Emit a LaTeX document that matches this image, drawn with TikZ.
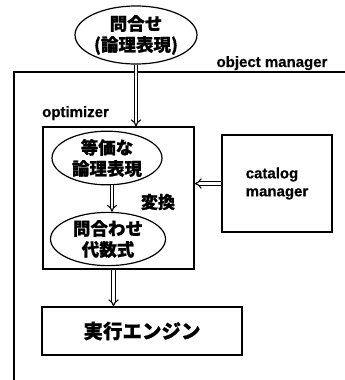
\documentclass[tikz,border=0pt]{standalone}
\usepackage{fontspec}
\setmainfont{Liberation Sans}[BoldFeatures={FakeBold=0.6}]
\newfontfamily\jp{Noto Sans CJK JP}[BoldFeatures={FakeBold=0.8}]
\usetikzlibrary{shapes.geometric,arrows.meta}
\tikzset{
  boxs/.style={draw,line width=1.2pt,rectangle,inner sep=0pt},
  ell/.style={draw,line width=1.2pt,ellipse,inner sep=0pt,align=center,
    font=\jp\bfseries\fontsize{17.5}{21}\selectfont},
  lat/.style={font=\bfseries\fontsize{15}{17}\selectfont,inner sep=0pt},
  dbl/.style={double,double distance=2.4pt,line width=1.1pt,-{Implies[length=5pt]}},
}
\begin{document}
\begin{tikzpicture}[x=1pt,y=-1pt]
\useasboundingbox (0,0) rectangle (345,380);
% object manager frame
\draw[line width=1.2pt] (14,380) -- (14,72) -- (345,72);
\node[lat,anchor=base] (om) at (272,67) {object manager};
% query ellipse
\node[ell,minimum width=122,minimum height=58] (q) at (136,35) {問合せ\\(論理表現)};
% optimizer
\node[lat,anchor=base west] (optl) at (42,117) {optimizer};
\node[boxs,minimum width=151,minimum height=142] (opt) at (118.5,198) {};
\node[ell,minimum width=110,minimum height=44] (e1) at (107,158) {等価な\\論理表現};
\node[ell,minimum width=115,minimum height=48] (e2) at (108,239) {問合わせ\\代数式};
\node[font=\jp\bfseries\fontsize{17}{20}\selectfont,inner sep=0pt] (conv) at (158,202) {変換};
% catalog manager
\node[boxs,minimum width=110,minimum height=97,align=left,
  font=\bfseries\fontsize{15}{18}\selectfont] (cat) at (277,183.5) {catalog\\manager};
% execution engine
\node[boxs,minimum width=200,minimum height=48,
  font=\jp\bfseries\fontsize{19.5}{22}\selectfont] (exec) at (142,331) {実行エンジン};
% arrows
\draw[dbl] (q.south) -- (q.south |- opt.north);
\draw[dbl] ([xshift=5pt]e1.south) -- ([xshift=5pt]e1.south |- e2.north);
\draw[dbl] ([xshift=-5pt]opt.south) -- ([xshift=-5pt]opt.south |- exec.north);
\draw[dbl] (cat.west) -- (opt.east |- cat.west);
\end{tikzpicture}
\end{document}
